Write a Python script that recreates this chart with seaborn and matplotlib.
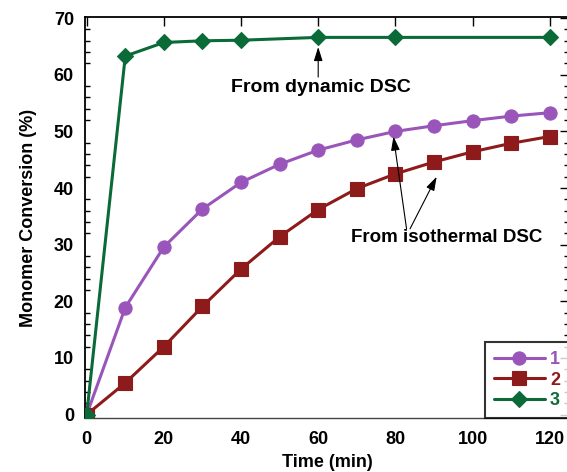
import matplotlib
matplotlib.use("Agg")
import matplotlib.pyplot as plt
import seaborn as sns
import pandas as pd
from matplotlib.ticker import MultipleLocator

# ---- data ----
time_1 = [0, 10, 20, 30, 40, 50, 60, 70, 80, 90, 100, 110, 120]
conv_1 = [0, 18.9, 29.6, 36.3, 41.0, 44.2, 46.7, 48.5, 50.0, 51.0, 51.9, 52.7, 53.3]
time_2 = [0, 10, 20, 30, 40, 50, 60, 70, 80, 90, 100, 110, 120]
conv_2 = [0, 5.6, 12.0, 19.1, 25.7, 31.4, 36.2, 39.9, 42.5, 44.6, 46.4, 47.9, 49.1]
time_3 = [0, 10, 20, 30, 40, 60, 80, 120]
conv_3 = [0, 63.3, 65.7, 66.0, 66.1, 66.6, 66.6, 66.6]
series_names = ["1", "2", "3"]
colors = ["#9a55bb", "#8e1b1b", "#0b6b38"]
markers = ["o", "s", "D"]
msizes = [9.5, 10, 8.5]
x_ticks = [0, 20, 40, 60, 80, 100, 120]
y_ticks = [0, 10, 20, 30, 40, 50, 60, 70]

sns.set_theme(style="white")
plt.rcParams["font.family"] = ["Liberation Sans", "DejaVu Sans"]
plt.rcParams["font.weight"] = "bold"
plt.rcParams["text.color"] = "black"
plt.rcParams["axes.labelcolor"] = "black"

fig = plt.figure(figsize=(5.67, 4.72), dpi=100)
ax = fig.add_axes([85 / 567, 1 - 418 / 472, (569 - 85) / 567, (418 - 17) / 472])

data = [(time_1, conv_1), (time_2, conv_2), (time_3, conv_3)]
for (t, c), name, col, mk, ms in zip(data, series_names, colors, markers, msizes):
    df = pd.DataFrame({"Time": t, "Conv": c})
    sns.lineplot(data=df, x="Time", y="Conv", ax=ax, color=col, marker=mk,
                 markersize=ms, markeredgecolor=col, markeredgewidth=0.8,
                 linewidth=2.2, label=name, zorder=3)

ax.set_xlim(-0.44, 125)
ax.set_ylim(-0.6, 70.2)
ax.set_xticks(x_ticks)
ax.set_yticks(y_ticks)
ax.yaxis.set_minor_locator(MultipleLocator(2))
ax.tick_params(axis="both", which="both", direction="in", top=True, right=True,
               colors="black", labelsize=13)
ax.tick_params(axis="both", which="major", length=6.5, width=1)
ax.tick_params(axis="y", which="minor", length=3.5, width=1, left=True, right=True)
ax.tick_params(axis="x", which="major", pad=9)
ax.tick_params(axis="y", which="major", pad=8)
for lab in ax.get_xticklabels() + ax.get_yticklabels():
    lab.set_fontweight("bold")

for sp in ax.spines.values():
    sp.set_color("black")
    sp.set_linewidth(1.3)
ax.spines["bottom"].set_color("#444444")
ax.spines["bottom"].set_linewidth(1.0)

ax.set_xlabel("Time (min)", fontsize=13, fontweight="bold", labelpad=5)
ax.set_ylabel("Monomer Conversion (%)", fontsize=13, fontweight="bold", labelpad=12)

arrow_kw = dict(arrowstyle="-|>,head_length=0.7,head_width=0.22", color="black",
                lw=0.8, shrinkA=0, shrinkB=0)
ax.text(60.8, 57.8, "From dynamic DSC", ha="center", va="center",
        fontsize=14, fontweight="bold")
ax.annotate("", xy=(60, 64.9), xytext=(60, 59.6), arrowprops=arrow_kw)
ax.text(93.4, 31.2, "From isothermal DSC", ha="center", va="center",
        fontsize=13.5, fontweight="bold")
ax.annotate("", xy=(79.5, 49.1), xytext=(82.9, 32.8), arrowprops=arrow_kw)
ax.annotate("", xy=(90.7, 42.0), xytext=(83.8, 32.8), arrowprops=arrow_kw)

leg = ax.legend(loc="lower right", borderaxespad=0, frameon=True, fancybox=False,
                handlelength=2.8, handletextpad=0.3, borderpad=0.5,
                labelspacing=0.18, prop={"weight": "bold", "size": 13})
leg.get_frame().set_edgecolor("black")
leg.get_frame().set_linewidth(1.5)
for txt, col in zip(leg.get_texts(), colors):
    txt.set_color(col)

fig.savefig("out.png", dpi=100)
